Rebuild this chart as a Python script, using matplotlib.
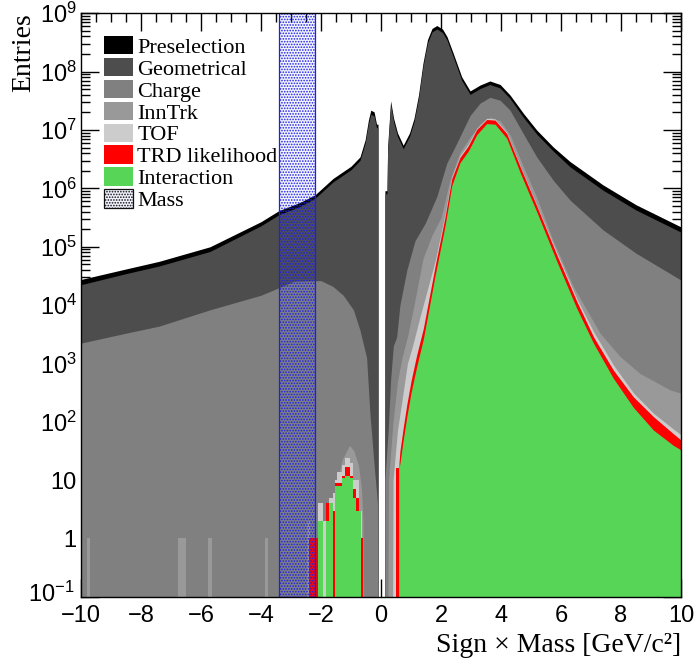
import numpy as np
import matplotlib.pyplot as plt
import matplotlib.transforms as mtransforms
from matplotlib.patches import Patch
from matplotlib.ticker import LogLocator, NullFormatter, MultipleLocator

plt.rcParams['mathtext.fontset'] = 'custom'
plt.rcParams['mathtext.rm'] = 'Liberation Sans'
plt.rcParams['mathtext.it'] = 'Liberation Sans:italic'
plt.rcParams['hatch.linewidth'] = 0.8

# ---- data: log10(entries), smooth parts as knots ----
pre_x = [-10, -8.5, -7.4, -5.7, -4.0, -3.4, -2.7, -2.2, -1.6, -1.0, -0.7, -0.53, -0.42, -0.34, -0.23, -0.15, -0.1, -0.1,
         0.13, 0.13, 0.2, 0.22, 0.32, 0.42, 0.55, 0.74, 0.95, 1.1, 1.25, 1.4, 1.55, 1.7, 1.86, 2.05, 2.2, 2.41, 2.69,
         2.97, 3.3, 3.63, 3.97, 4.3, 4.74, 5.19, 5.74, 6.3, 7.4, 8.5, 10]
pre_l = [4.44, 4.62, 4.75, 5.0, 5.43, 5.62, 5.76, 5.89, 6.17, 6.38, 6.54, 6.83, 7.17, 7.34, 7.31, 7.1, 7.1, -2,
         -2, 5.96, 5.96, 6.7, 7.5, 7.2, 6.95, 6.74, 6.95, 7.2, 7.6, 8.15, 8.55, 8.74, 8.79, 8.73, 8.6, 8.31, 7.91,
         7.67, 7.77, 7.84, 7.78, 7.6, 7.29, 7.0, 6.71, 6.46, 6.06, 5.72, 5.34]
geo_l = [4.35, 4.54, 4.67, 4.92, 5.36, 5.55, 5.69, 5.83, 6.11, 6.32, 6.48, 6.77, 7.1, 7.27, 7.24, 7.04, 7.04, -2,
         -2, 5.91, 5.91, 6.64, 7.44, 7.14, 6.89, 6.68, 6.89, 7.14, 7.54, 8.09, 8.49, 8.68, 8.73, 8.67, 8.54, 8.25, 7.85,
         7.61, 7.71, 7.78, 7.72, 7.54, 7.22, 6.93, 6.64, 6.37, 5.97, 5.63, 5.25]

chg_x = [-10, -8.5, -7.4, -5.7, -4.0, -3.4, -2.9, -2.0, -1.6, -1.26, -0.92, -0.7, -0.48, -0.37, -0.22, -0.15, -0.12,
         -0.1, 0.13, 0.13, 0.24, 0.32, 0.41, 0.52, 0.63, 0.86, 1.13, 1.47, 1.86, 2.19, 2.52, 2.97, 3.3, 3.63, 3.97, 4.3,
         4.74, 5.19, 5.74, 6.3, 7.4, 8.5, 10]
chg_l = [3.35, 3.52, 3.64, 3.92, 4.17, 4.3, 4.41, 4.42, 4.32, 4.17, 3.92, 3.57, 3.1, 2.15, 1.2, 0.8, 0.6,
         -2, -2, 1.0, 1.86, 2.72, 3.3, 3.45, 4.0, 4.6, 5.1, 5.4, 5.86, 6.43, 6.77, 7.25, 7.46, 7.56, 7.51, 7.34,
         6.94, 6.54, 6.14, 5.8, 5.29, 4.89, 4.43]

inn_x = [-1.5, -1.45, -1.3, -1.05, -0.9, -0.75, -0.65, -0.6, -0.58, 0.22, 0.25, 0.4, 0.55, 0.7, 0.9, 1.1, 1.4, 1.7,
         2.0, 2.3, 2.63, 2.97, 3.3, 3.63, 3.97, 4.3, 4.74, 5.19, 5.74, 6.41, 7.3, 7.97, 8.63, 9.63, 10]
inn_l = [-2, 1.0, 1.35, 1.6, 1.5, 1.25, 0.85, 0.3, -2, -2, 1.0, 2.0, 2.7, 3.1, 3.5, 4.0, 4.8, 5.2,
         5.5, 6.15, 6.62, 6.88, 7.1, 7.22, 7.16, 6.92, 6.38, 5.85, 5.1, 4.32, 3.52, 3.12, 2.83, 2.55, 2.49]

tof_x = [0.38, 0.4, 0.55, 0.68, 0.88, 1.05, 1.3, 1.8, 2.13, 2.36, 2.63, 2.91, 3.19, 3.52, 3.8, 4.19, 4.63, 5.19,
         5.86, 6.52, 7.08, 7.74, 8.41, 9.08, 9.74, 10]
tof_l = [-2, 1.0, 1.86, 2.3, 3.0, 3.3, 3.8, 4.75, 5.55, 6.2, 6.56, 6.76, 7.03, 7.2, 7.19, 6.96, 6.4, 5.72,
         4.9, 4.12, 3.55, 2.98, 2.5, 2.15, 1.88, 1.78]

trd_x = [0.6, 0.6, 0.63, 0.74, 0.86, 1.0, 1.19, 1.41, 1.8, 2.13, 2.36, 2.63, 2.91, 3.19, 3.52, 3.8, 4.19, 4.63,
         5.19, 5.86, 6.52, 7.08, 7.74, 8.41, 9.08, 9.74, 10]
trd_l = [-2, 1.3, 1.5, 1.9, 2.3, 2.7, 3.15, 3.6, 4.66, 5.5, 6.17, 6.53, 6.73, 7.01, 7.18, 7.17, 6.94, 6.38,
         5.7, 4.86, 4.07, 3.46, 2.89, 2.43, 2.09, 1.8, 1.69]

int_x = trd_x
int_l = [-2, 1.2, 1.29, 1.69, 2.09, 2.5, 2.95, 3.42, 4.5, 5.35, 6.05, 6.44, 6.64, 6.92, 7.11, 7.1, 6.86, 6.28,
         5.6, 4.75, 3.95, 3.35, 2.75, 2.25, 1.86, 1.6, 1.52]

# low-count bins (left edge, width, entries)
inn_bl = [-9.8, -6.75, -5.78, -3.87, -2.48]
inn_bw = [0.1, 0.25, 0.15, 0.1, 0.11]
inn_bn = [1, 1, 1, 1, 2]

tof_bl = [-2.11, -1.94, -1.85, -1.74, -1.61, -1.54, -1.46, -1.3, -1.2, -1.05, -0.95, -0.72]
tof_bw = [0.17, 0.09, 0.11, 0.13, 0.07, 0.08, 0.16, 0.1, 0.15, 0.1, 0.23, 0.1]
tof_bn = [4, 2, 4, 5, 6, 10, 14, 18, 24, 20, 10, 3]

trd_bl = [-2.4, -2.17, -2.11, -1.85, -1.74, -1.61, -1.54, -1.46, -1.3, -1.2, -1.05, -0.95, -0.85, -0.72, 0.49]
trd_bw = [0.2, 0.06, 0.17, 0.11, 0.13, 0.07, 0.08, 0.16, 0.1, 0.15, 0.1, 0.1, 0.13, 0.12, 0.11]
trd_bn = [1, 1, 2, 4, 4, 3, 9, 9, 12, 17, 12, 7, 5, 1, 16]

int_bl = [-2.11, -1.85, -1.74, -1.54, -1.46, -1.3, -1.2, -1.05, -0.95, -0.85, -0.72]
int_bw = [0.17, 0.11, 0.13, 0.08, 0.16, 0.1, 0.15, 0.1, 0.1, 0.13, 0.04]
int_bn = [2, 2, 4, 8, 8, 11, 12, 11, 5, 3, 3]

mass_lo, mass_hi = -3.4, -2.2

labels = ['Preselection', 'Geometrical', 'Charge', 'InnTrk', 'TOF', 'TRD likelihood', 'Interaction']
colors = ['#000000', '#4d4d4d', '#808080', '#999999', '#cccccc', '#ff0000', '#57d557']

series = [
    (pre_x, pre_l, None),
    (pre_x, geo_l, None),
    (chg_x, chg_l, None),
    (inn_x, inn_l, (inn_bl, inn_bw, inn_bn)),
    (tof_x, tof_l, (tof_bl, tof_bw, tof_bn)),
    (trd_x, trd_l, (trd_bl, trd_bw, trd_bn)),
    (int_x, int_l, (int_bl, int_bw, int_bn)),
]

fig = plt.figure(figsize=(6.94, 6.63), dpi=100)
ax = fig.add_axes([0.1167, 0.0995, 0.8646, 0.8805])
ax.set_yscale('log')

for (xs, ls, bins), c in zip(series, colors):
    ax.fill_between(xs, 1e-2, 10.0 ** np.array(ls), color=c, lw=0, zorder=2)
    if bins is not None:
        ax.bar(bins[0], bins[2], width=bins[1], align='edge', bottom=1e-2, color=c, lw=0, zorder=2)

band_face = (0.3, 0.4, 1.0, 0.07)
ax.axvspan(mass_lo, mass_hi, facecolor=band_face, edgecolor='#2020e0',
           hatch='......', lw=0.9, zorder=3)

# ROOT-like ticks
xt = list(range(-10, 11, 2))
ax.set_xticks(xt, labels=[('\u2212%d' % -v) if v < 0 else '%d' % v for v in xt])
ax.xaxis.set_minor_locator(MultipleLocator(0.5))
yt = [10.0 ** k for k in range(-1, 10)]
ylab = {-1: r'$\mathregular{10^{-1}}$', 0: '1', 1: '10'}
ax.set_yticks(yt, labels=[ylab.get(k, r'$\mathregular{10^{%d}}$' % k) for k in range(-1, 10)])
ax.yaxis.set_minor_locator(LogLocator(base=10, subs=np.arange(2, 10), numticks=20))
ax.yaxis.set_minor_formatter(NullFormatter())
ax.set_xlim(-10, 10)
ax.set_ylim(0.1, 1e9)
ax.tick_params(which='both', direction='in', top=True, right=True, width=1.0,
               labelsize=17, zorder=5)
ax.tick_params(which='major', length=13)
ax.tick_params(axis='x', which='major', pad=6)
ax.tick_params(axis='y', which='major', pad=3)
ax.tick_params(which='minor', length=6.5)
for lab in ax.get_xticklabels() + ax.get_yticklabels():
    lab.set_fontfamily('Liberation Sans')
# lift the lowest y label a little so it clears the "-10" below it
low_lab = ax.get_yticklabels()[0]
low_lab.set_transform(low_lab.get_transform() +
                      mtransforms.ScaledTranslation(-2 / 72, 4 / 72, fig.dpi_scale_trans))
for s in ax.spines.values():
    s.set_linewidth(1.0)
    s.set_zorder(6)

ax.set_ylabel('Entries', family='Liberation Serif', fontsize=20, loc='top')
ax.yaxis.set_label_coords(-0.075, 1.0)
ax.set_xlabel('Sign \u00d7 Mass [GeV/c\u00b2]', family='Liberation Serif', fontsize=20, loc='right', labelpad=4)

handles = [Patch(facecolor=c, edgecolor='none') for c in colors]
handles.append(Patch(facecolor=band_face, edgecolor='#101010', hatch='......', lw=0.9))
leg = ax.legend(handles, labels + ['Mass'], loc='upper left', bbox_to_anchor=(0.02, 0.98),
                frameon=False, borderpad=0, labelspacing=0.0, handlelength=1.3, handleheight=0.9,
                handletextpad=0.2, prop={'family': 'Liberation Serif', 'size': 16})
leg.set_zorder(7)

fig.savefig('out.png', dpi=100)
